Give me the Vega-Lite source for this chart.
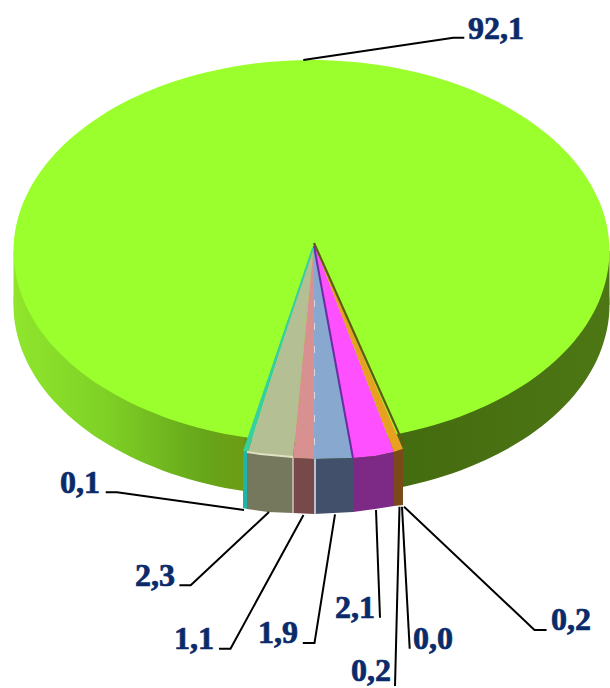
{"$schema":"https://vega.github.io/schema/vega-lite/v6.json","width":610,"height":688,"padding":0,"autosize":{"type":"none"},"background":"#ffffff","view":{"stroke":null},
"datasets":{
"rim":[{"s":0,"x":609.5,"y":251},{"s":1,"x":599.3,"y":300.4},{"s":2,"x":569.6,"y":346.5},{"s":3,"x":522.2,"y":386.1},{"s":4,"x":460.5,"y":416.4},{"s":5,"x":388.6,"y":435.5},{"s":6,"x":311.5,"y":442},{"s":7,"x":234.4,"y":435.5},{"s":8,"x":162.5,"y":416.4},{"s":9,"x":100.8,"y":386.1},{"s":10,"x":53.4,"y":346.5},{"s":11,"x":23.7,"y":300.4},{"s":12,"x":13.5,"y":251},{"s":13,"x":23.7,"y":201.6},{"s":14,"x":53.4,"y":155.5},{"s":15,"x":100.8,"y":115.9},{"s":16,"x":162.5,"y":85.6},{"s":17,"x":234.4,"y":66.5},{"s":18,"x":311.5,"y":60},{"s":19,"x":388.6,"y":66.5},{"s":20,"x":460.5,"y":85.6},{"s":21,"x":522.2,"y":115.9},{"s":22,"x":569.6,"y":155.5},{"s":23,"x":599.3,"y":201.6}],
"wall":[{"p":"low","s":0,"x":609.5,"y":305},{"p":"low","s":1,"x":599.3,"y":354.4},{"p":"low","s":2,"x":569.6,"y":400.5},{"p":"low","s":3,"x":522.2,"y":440.1},{"p":"low","s":4,"x":460.5,"y":470.4},{"p":"low","s":5,"x":388.6,"y":489.5},{"p":"low","s":6,"x":311.5,"y":496},{"p":"low","s":7,"x":234.4,"y":489.5},{"p":"low","s":8,"x":162.5,"y":470.4},{"p":"low","s":9,"x":100.8,"y":440.1},{"p":"low","s":10,"x":53.4,"y":400.5},{"p":"low","s":11,"x":23.7,"y":354.4},{"p":"low","s":12,"x":13.5,"y":305},{"p":"low","s":13,"x":23.7,"y":255.6},{"p":"low","s":14,"x":53.4,"y":209.5},{"p":"low","s":15,"x":100.8,"y":169.9},{"p":"low","s":16,"x":162.5,"y":139.6},{"p":"low","s":17,"x":234.4,"y":120.5},{"p":"low","s":18,"x":311.5,"y":114},{"p":"low","s":19,"x":388.6,"y":120.5},{"p":"low","s":20,"x":460.5,"y":139.6},{"p":"low","s":21,"x":522.2,"y":169.9},{"p":"low","s":22,"x":569.6,"y":209.5},{"p":"low","s":23,"x":599.3,"y":255.6}],
"band":[{"s":0,"x":13.5,"y":251},{"s":1,"x":609.5,"y":251},{"s":2,"x":609.5,"y":305},{"s":3,"x":13.5,"y":305}],
"slices":[
{"p":"teal","s":0,"x":314,"y":243},{"p":"teal","s":1,"x":243,"y":451},{"p":"teal","s":2,"x":248,"y":452},
{"p":"tan","s":0,"x":314,"y":243},{"p":"tan","s":1,"x":248,"y":452},{"p":"tan","s":2,"x":260,"y":454},{"p":"tan","s":3,"x":293,"y":458},
{"p":"rose","s":0,"x":314,"y":243},{"p":"rose","s":1,"x":293,"y":458},{"p":"rose","s":2,"x":314,"y":459},
{"p":"blue","s":0,"x":314,"y":243},{"p":"blue","s":1,"x":314,"y":459},{"p":"blue","s":2,"x":353,"y":458},
{"p":"magenta","s":0,"x":314,"y":243},{"p":"magenta","s":1,"x":353,"y":458},{"p":"magenta","s":2,"x":375,"y":456},{"p":"magenta","s":3,"x":394,"y":452},
{"p":"orange","s":0,"x":314,"y":243},{"p":"orange","s":1,"x":394,"y":452},{"p":"orange","s":2,"x":403,"y":449},
{"p":"tealside","s":0,"x":243,"y":451},{"p":"tealside","s":1,"x":247,"y":452},{"p":"tealside","s":2,"x":247,"y":509},{"p":"tealside","s":3,"x":243,"y":508},
{"p":"tanside","s":0,"x":247,"y":452},{"p":"tanside","s":1,"x":260,"y":454},{"p":"tanside","s":2,"x":293,"y":458},{"p":"tanside","s":3,"x":293,"y":513},{"p":"tanside","s":4,"x":268,"y":512},{"p":"tanside","s":5,"x":247,"y":509},
{"p":"maroon","s":0,"x":293,"y":458},{"p":"maroon","s":1,"x":314,"y":459},{"p":"maroon","s":2,"x":314,"y":514},{"p":"maroon","s":3,"x":293,"y":513},
{"p":"navy","s":0,"x":314,"y":459},{"p":"navy","s":1,"x":353,"y":458},{"p":"navy","s":2,"x":353,"y":512},{"p":"navy","s":3,"x":314,"y":514},
{"p":"purple","s":0,"x":353,"y":458},{"p":"purple","s":1,"x":375,"y":456},{"p":"purple","s":2,"x":394,"y":452},{"p":"purple","s":3,"x":394,"y":506},{"p":"purple","s":4,"x":375,"y":509},{"p":"purple","s":5,"x":353,"y":512},
{"p":"brown","s":0,"x":394,"y":452},{"p":"brown","s":1,"x":403,"y":449},{"p":"brown","s":2,"x":403,"y":505},{"p":"brown","s":3,"x":394,"y":506}],
"edges":[
{"e":"dark","s":0,"x":314,"y":243},{"e":"dark","s":1,"x":404,"y":445},
{"e":"violet","s":0,"x":314,"y":246},{"e":"violet","s":1,"x":353,"y":458},
{"e":"cyan","s":0,"x":313,"y":248},{"e":"cyan","s":1,"x":245,"y":451},
{"e":"light","s":0,"x":247,"y":452},{"e":"light","s":1,"x":260,"y":454},{"e":"light","s":2,"x":293,"y":457},
{"e":"seamA","s":0,"x":293,"y":458},{"e":"seamA","s":1,"x":293,"y":513},
{"e":"seamB","s":0,"x":315,"y":459},{"e":"seamB","s":1,"x":315,"y":514}],
"dashes":[{"s":0,"x":314.5,"y":300},{"s":1,"x":314.5,"y":459}],
"leaders":[
{"v":"a","s":0,"x":303.3,"y":60},{"v":"a","s":1,"x":453.3,"y":37.7},{"v":"a","s":2,"x":464.3,"y":37.7},
{"v":"b","s":0,"x":105.7,"y":492.3},{"v":"b","s":1,"x":117,"y":492.3},{"v":"b","s":2,"x":244,"y":510},
{"v":"c","s":0,"x":179.4,"y":585.3},{"v":"c","s":1,"x":190.7,"y":585.3},{"v":"c","s":2,"x":269,"y":512},
{"v":"d","s":0,"x":219,"y":648.7},{"v":"d","s":1,"x":230.5,"y":648.7},{"v":"d","s":2,"x":303.5,"y":515},
{"v":"e","s":0,"x":302.8,"y":643},{"v":"e","s":1,"x":314.5,"y":643},{"v":"e","s":2,"x":335,"y":514.3},
{"v":"f","s":0,"x":380,"y":617.7},{"v":"f","s":1,"x":376,"y":510},
{"v":"g","s":0,"x":409.7,"y":648.7},{"v":"g","s":1,"x":402,"y":506.7},
{"v":"h","s":0,"x":395,"y":686},{"v":"h","s":1,"x":399.5,"y":506.7},
{"v":"i","s":0,"x":546.6,"y":630},{"v":"i","s":1,"x":534.5,"y":630},{"v":"i","s":2,"x":404,"y":506.7}],
"labels":[
{"t":"92,1","x":496,"y":38.5},{"t":"0,1","x":80,"y":492.7},{"t":"2,3","x":155,"y":586},{"t":"1,1","x":194,"y":649},{"t":"1,9","x":278,"y":643},{"t":"2,1","x":355,"y":618},{"t":"0,0","x":433,"y":649},{"t":"0,2","x":371,"y":681},{"t":"0,2","x":571,"y":630}]
},
"encoding":{
"x":{"field":"x","type":"quantitative","axis":null,"scale":{"domain":[0,610],"nice":false,"zero":false}},
"y":{"field":"y","type":"quantitative","axis":null,"scale":{"domain":[0,688],"reverse":true,"nice":false,"zero":false}}
},
"layer":[
{"data":{"name":"wall"},"mark":{"type":"line","interpolate":"cardinal-closed","stroke":"transparent","strokeWidth":0,"fill":{"x1":0,"y1":0,"x2":1,"y2":0,"gradient":"linear","stops":[{"offset":0,"color":"#8fe62c"},{"offset":0.15,"color":"#7fd226"},{"offset":0.32,"color":"#66a61a"},{"offset":0.385,"color":"#6c9c14"},{"offset":0.4,"color":"#507c12"},{"offset":0.65,"color":"#446c10"},{"offset":1,"color":"#4d7614"}]}},"encoding":{"order":{"field":"s"}}},
{"data":{"name":"band"},"mark":{"type":"line","stroke":"transparent","strokeWidth":0,"fill":{"x1":0,"y1":0,"x2":1,"y2":0,"gradient":"linear","stops":[{"offset":0,"color":"#8fe62c"},{"offset":0.4,"color":"#6c9c14"},{"offset":1,"color":"#4d7614"}]}},"encoding":{"order":{"field":"s"}}},
{"data":{"name":"rim"},"mark":{"type":"line","interpolate":"cardinal-closed","stroke":"transparent","strokeWidth":0,"fill":"#9aff2c"},"encoding":{"order":{"field":"s"}}},
{"data":{"name":"slices"},"mark":{"type":"line","stroke":"transparent","strokeWidth":0},"encoding":{"order":{"field":"s"},"fill":{"field":"p","type":"nominal","legend":null,"scale":{"domain":["teal","tan","rose","blue","magenta","orange","tealside","tanside","maroon","navy","purple","brown"],"range":["#38cfa0","#b4bf94","#d89090","#88a8d0","#ff50ff","#e8a020","#20b4a8","#76785e","#78494a","#43506c","#7d2a86","#7a4a18"]}}}},
{"data":{"name":"edges"},"mark":{"type":"line"},"encoding":{"order":{"field":"s"},"stroke":{"field":"e","type":"nominal","legend":null,"scale":{"domain":["dark","violet","cyan","light","seamA","seamB"],"range":["#5f5a12","#6a2fa0","#38cfa0","#dfe2c0","#c8c0b0","#e8e4ea"]}},"strokeWidth":{"field":"e","type":"nominal","legend":null,"scale":{"domain":["dark","violet","cyan","light","seamA","seamB"],"range":[2.2,1.5,2.5,2,1,1.5]}}}},
{"data":{"name":"dashes"},"mark":{"type":"line","stroke":"#e8e4ea","strokeWidth":1,"strokeDash":[7,16],"opacity":0.8},"encoding":{"order":{"field":"s"}}},
{"data":{"name":"leaders"},"mark":{"type":"line","stroke":"#000000","strokeWidth":2},"encoding":{"order":{"field":"s"},"detail":{"field":"v"}}},
{"data":{"name":"labels"},"mark":{"type":"text","font":"Liberation Serif","fontWeight":"bold","fontSize":32,"fill":"#0a2a6a","stroke":"#0a2a6a","strokeWidth":0.7,"align":"center","baseline":"alphabetic"},"encoding":{"text":{"field":"t"}}}
]}
